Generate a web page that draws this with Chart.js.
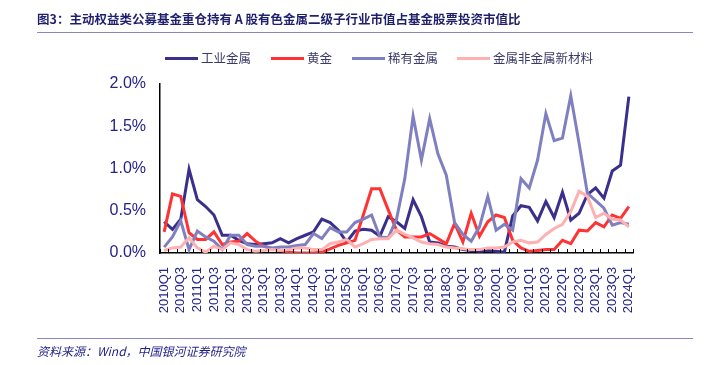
<!DOCTYPE html>
<html>
<head>
<meta charset="utf-8">
<script src="https://cdn.jsdelivr.net/npm/chart.js@4.4.1/dist/chart.umd.min.js"></script>
<style>
  body { margin: 0; background: #fff; }
  #wrap { position: relative; width: 717px; height: 365px; overflow: hidden; font-family: "Noto Sans CJK SC", sans-serif; }
  #chart { position: absolute; left: 0; top: 0; }
  .title { position: absolute; left: 37px; top: 9px; font-size: 12.5px; font-weight: bold; color: #1f1f6e; white-space: nowrap; }
  .rule { position: absolute; left: 37px; width: 656px; height: 0; border-top: 1.5px solid #8a86c4; }
  .legend-item { position: absolute; top: 48px; font-size: 12.5px; color: #3a3a6a; white-space: nowrap; }
  .legend-item span { display: inline-block; width: 33px; height: 3px; vertical-align: middle; margin-right: 3px; position: relative; top: -1px; }
  .source { position: absolute; left: 37px; top: 342px; font-size: 12px; font-style: italic; color: #1f1f8a; white-space: nowrap; }
</style>
</head>
<body>
<div id="wrap">
  <canvas id="chart" width="717" height="365"></canvas>
  <div class="title">图3：主动权益类公募基金重仓持有 A 股有色金属二级子行业市值占基金股票投资市值比</div>
  <div class="rule" style="top:32px"></div>
  <div id="legend"></div>
  <div class="rule" style="top:338px"></div>
  <div class="source">资料来源：Wind，中国银河证券研究院</div>
</div>
<script>
// quarters 2010Q1 .. 2024Q1
const quarters = [];
for (let y = 2010; y <= 2024; y++) {
    for (let q = 1; q <= 4; q++) {
        if (y === 2024 && q > 1) break;
        quarters.push(y + 'Q' + q);
    }
}

const seriesNames = ['工业金属', '黄金', '稀有金属', '金属非金属新材料'];
const seriesColors = ['#3b2f8c', '#ff3333', '#8080c0', '#ffb0b0'];

// values in %
const industrial = [0.37, 0.28, 0.40, 0.99, 0.63, 0.55, 0.45, 0.21, 0.21, 0.15,
    0.11, 0.10, 0.11, 0.12, 0.17, 0.12, 0.17, 0.21, 0.25, 0.40,
    0.36, 0.27, 0.13, 0.26, 0.28, 0.27, 0.20, 0.43, 0.37, 0.29,
    0.63, 0.43, 0.13, 0.12, 0.08, 0.07, 0.04, 0.03, 0.02, 0.03,
    0.02, 0.01, 0.44, 0.56, 0.54, 0.38, 0.61, 0.42, 0.72, 0.39,
    0.47, 0.69, 0.77, 0.65, 0.97, 1.04, 1.85];
const gold = [0.25, 0.70, 0.67, 0.24, 0.16, 0.16, 0.25, 0.10, 0.13, 0.14,
    0.23, 0.14, 0.08, 0.05, 0.03, 0.01, 0.00, 0.00, 0.00, 0.01,
    0.05, 0.09, 0.12, 0.15, 0.45, 0.76, 0.76, 0.51, 0.27, 0.19,
    0.19, 0.19, 0.23, 0.17, 0.11, 0.35, 0.13, 0.47, 0.20, 0.37,
    0.45, 0.42, 0.15, 0.06, 0.02, 0.03, 0.04, 0.04, 0.15, 0.11,
    0.27, 0.26, 0.36, 0.31, 0.45, 0.41, 0.55];
const rare = [0.07, 0.19, 0.38, 0.04, 0.26, 0.19, 0.14, 0.04, 0.21, 0.21,
    0.10, 0.08, 0.08, 0.06, 0.07, 0.07, 0.09, 0.10, 0.23, 0.17,
    0.30, 0.25, 0.25, 0.36, 0.40, 0.45, 0.19, 0.18, 0.40, 0.88,
    1.62, 1.10, 1.59, 1.17, 0.92, 0.36, 0.22, 0.14, 0.31, 0.67,
    0.27, 0.34, 0.27, 0.88, 0.77, 1.10, 1.65, 1.33, 1.36, 1.86,
    1.30, 0.71, 0.62, 0.53, 0.33, 0.36, 0.34];
const newMaterial = [0.03, 0.06, 0.07, 0.18, 0.06, 0.01, 0.08, 0.04, 0.12, 0.10,
    0.04, 0.02, 0.03, 0.04, 0.03, 0.04, 0.06, 0.06, 0.04, 0.04,
    0.11, 0.13, 0.16, 0.07, 0.11, 0.16, 0.17, 0.17, 0.27, 0.22,
    0.18, 0.13, 0.11, 0.10, 0.07, 0.06, 0.05, 0.04, 0.04, 0.06,
    0.06, 0.07, 0.13, 0.15, 0.12, 0.13, 0.22, 0.29, 0.34, 0.49,
    0.73, 0.67, 0.42, 0.47, 0.40, 0.39, 0.31];

const yTicks = [0, 0.5, 1.0, 1.5, 2.0];

// legend in html
const legendX = [165, 271, 352, 457];
const legendBox = document.getElementById('legend');
seriesNames.forEach((name, i) => {
    const div = document.createElement('div');
    div.className = 'legend-item';
    div.style.left = legendX[i] + 'px';
    div.innerHTML = '<span style="background:' + seriesColors[i] + '"></span>' + name;
    legendBox.appendChild(div);
});

// inward tick marks on the category axis, Excel style
const innerTicks = {
    id: 'innerTicks',
    afterDraw(chart) {
        const { ctx, chartArea } = chart;
        const n = quarters.length;
        const step = (chartArea.right - chartArea.left) / n;
        ctx.save();
        ctx.strokeStyle = '#000';
        ctx.lineWidth = 1;
        ctx.beginPath();
        for (let i = 0; i <= n; i++) {
            const x = Math.round(chartArea.left + i * step) + 0.5;
            ctx.moveTo(x, chartArea.bottom);
            ctx.lineTo(x, chartArea.bottom - 4);
        }
        ctx.stroke();
        ctx.restore();
    }
};

const allData = [industrial, gold, rare, newMaterial];

new Chart(document.getElementById('chart'), {
    type: 'line',
    data: {
        labels: quarters,
        datasets: allData.map((d, i) => ({
            label: seriesNames[i],
            data: d,
            borderColor: seriesColors[i],
            backgroundColor: seriesColors[i],
            borderWidth: 3,
            pointRadius: 0,
            tension: 0,
            order: 3 - i
        }))
    },
    options: {
        responsive: false,
        animation: false,
        layout: { padding: { top: 84, right: 84, bottom: 0, left: 0 } },
        plugins: {
            legend: { display: false },
            title: { display: false },
            tooltip: { enabled: false }
        },
        scales: {
            x: {
                offset: true,
                grid: { display: false },
                border: { color: '#000', width: 1.5 },
                ticks: {
                    autoSkip: false,
                    minRotation: 90,
                    maxRotation: 90,
                    padding: 6,
                    color: '#23238c',
                    font: { family: 'Liberation Sans, Arial', size: 13 },
                    callback: function (v, idx) { return idx % 2 === 0 ? quarters[idx] : ''; }
                },
                afterFit(scale) { scale.height = 112; }
            },
            y: {
                min: 0,
                max: 2,
                grid: { display: false },
                border: { color: '#000', width: 1.5 },
                afterBuildTicks(scale) { scale.ticks = yTicks.map(v => ({ value: v })); },
                ticks: {
                    padding: 6,
                    color: '#23238c',
                    font: { family: 'Liberation Sans, Arial', size: 16 },
                    callback: v => v.toFixed(1) + '%'
                },
                afterFit(scale) { scale.width = 160; }
            }
        }
    },
    plugins: [innerTicks]
});
</script>
</body>
</html>
